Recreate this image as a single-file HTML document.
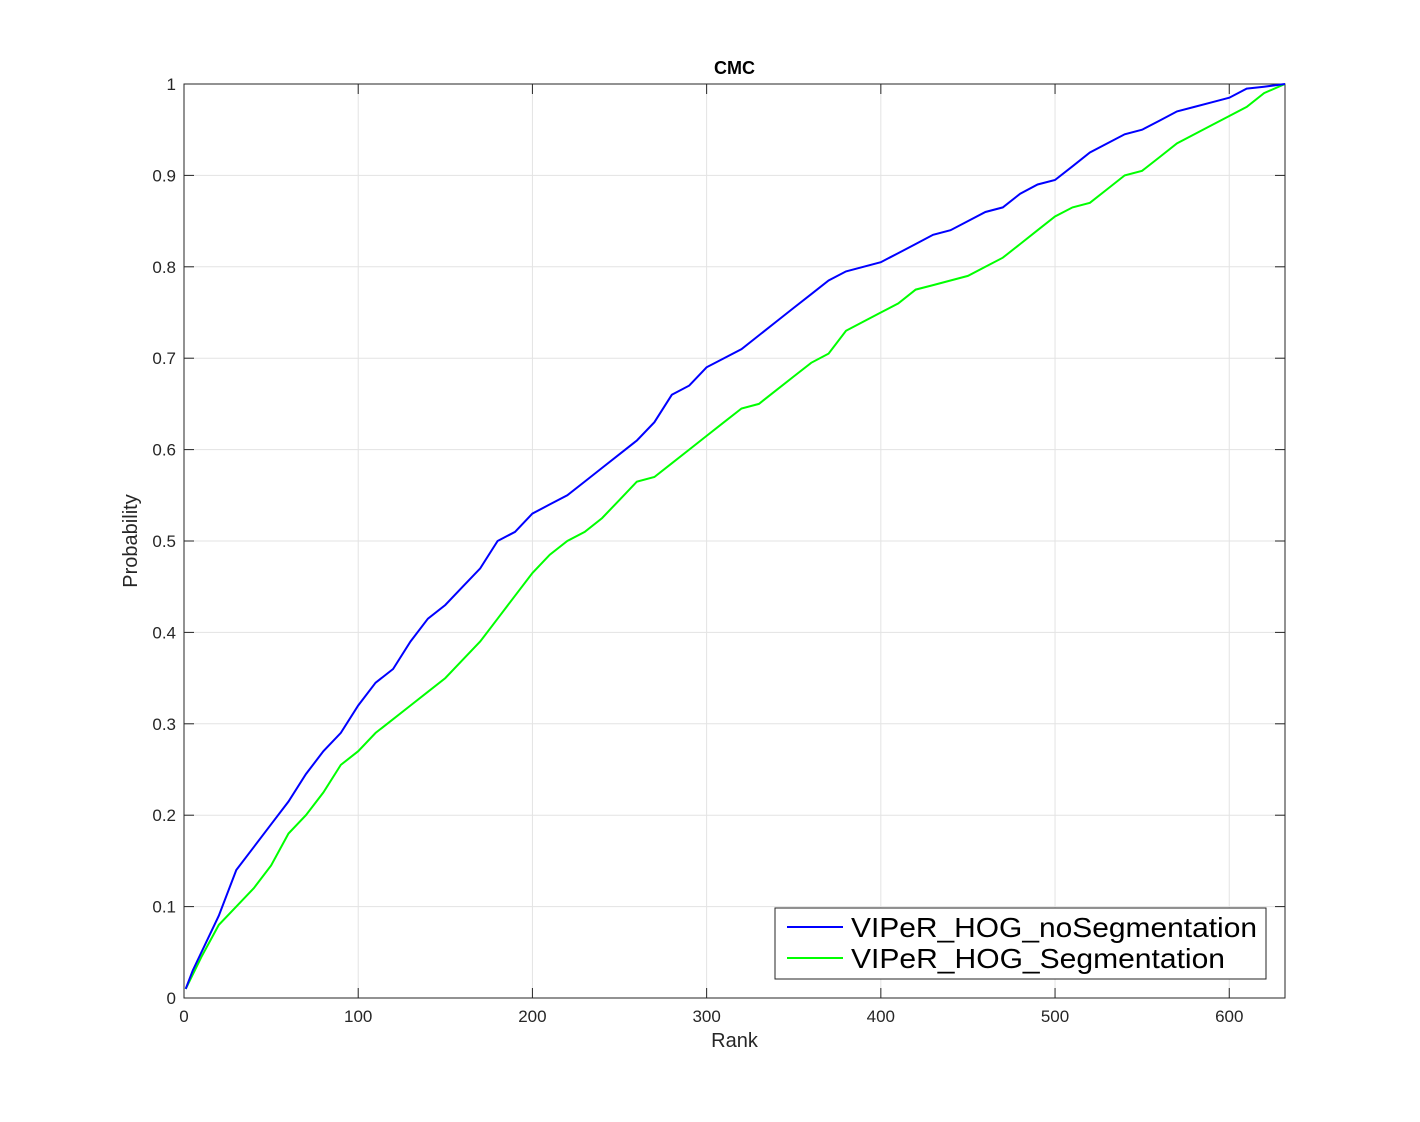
<!DOCTYPE html>
<html><head><meta charset="utf-8"><style>
body{margin:0;background:#fff;}
svg{display:block;font-family:"Liberation Sans",sans-serif;}
</style></head><body>
<svg id="chart" width="1420" height="1122"></svg>
<script>
const blueRanks=[1,5,10,20,30,40,50,60,70,80,90,100,110,120,130,140,150,160,170,180,190,200,210,220,230,240,250,260,270,280,290,300,310,320,330,340,350,360,370,380,390,400,410,420,430,440,450,460,470,480,490,500,510,520,530,540,550,560,570,580,590,600,610,620,632];
const blueValues=[0.01,0.03,0.05,0.09,0.14,0.165,0.19,0.215,0.245,0.27,0.29,0.32,0.345,0.36,0.39,0.415,0.43,0.45,0.47,0.5,0.51,0.53,0.54,0.55,0.565,0.58,0.595,0.61,0.63,0.66,0.67,0.69,0.70,0.71,0.725,0.74,0.755,0.77,0.785,0.795,0.80,0.805,0.815,0.825,0.835,0.84,0.85,0.86,0.865,0.88,0.89,0.895,0.91,0.925,0.935,0.945,0.95,0.96,0.97,0.975,0.98,0.985,0.995,0.997,1];
const greenRanks=[1,10,20,30,40,50,60,70,80,90,100,110,120,130,140,150,160,170,180,190,200,210,220,230,240,250,260,270,280,290,300,310,320,330,340,350,360,370,380,390,400,410,420,430,440,450,460,470,480,490,500,510,520,530,540,550,560,570,580,590,600,610,620,632];
const greenValues=[0.01,0.045,0.08,0.1,0.12,0.145,0.18,0.2,0.225,0.255,0.27,0.29,0.305,0.32,0.335,0.35,0.37,0.39,0.415,0.44,0.465,0.485,0.5,0.51,0.525,0.545,0.565,0.57,0.585,0.6,0.615,0.63,0.645,0.65,0.665,0.68,0.695,0.705,0.73,0.74,0.75,0.76,0.775,0.78,0.785,0.79,0.8,0.81,0.825,0.84,0.855,0.865,0.87,0.885,0.9,0.905,0.92,0.935,0.945,0.955,0.965,0.975,0.99,1];
const xTicks=[0,100,200,300,400,500,600];
const yTicks=[0,0.1,0.2,0.3,0.4,0.5,0.6,0.7,0.8,0.9,1];
const yTickLabels=["0","0.1","0.2","0.3","0.4","0.5","0.6","0.7","0.8","0.9","1"];

const L=184,R=1285,T=84,B=998,XMAX=632;
const sx=v=>L+(v/XMAX)*(R-L);
const sy=v=>B-v*(B-T);
const svg=document.getElementById('chart');
const NS='http://www.w3.org/2000/svg';
function mk(tag,attrs,parent){const e=document.createElementNS(NS,tag);for(const k in attrs)e.setAttribute(k,attrs[k]);(parent||svg).appendChild(e);return e;}

const grid=mk('g',{});


xTicks.forEach(t=>{
  mk('line',{x1:sx(t),x2:sx(t),y1:T,y2:B,stroke:'#e3e3e3','stroke-width':1},grid);
  mk('line',{x1:sx(t),x2:sx(t),y1:B,y2:B-10,stroke:'#262626'},grid);
  mk('line',{x1:sx(t),x2:sx(t),y1:T,y2:T+10,stroke:'#262626'},grid);
  const tx=mk('text',{x:sx(t),y:B+24,'text-anchor':'middle','font-size':17,fill:'#262626'});
  tx.textContent=t;
  
  
});
yTicks.forEach((t,i)=>{
  mk('line',{x1:L,x2:R,y1:sy(t),y2:sy(t),stroke:'#e3e3e3','stroke-width':1},grid);
  mk('line',{x1:L,x2:L+10,y1:sy(t),y2:sy(t),stroke:'#262626'},grid);
  mk('line',{x1:R,x2:R-10,y1:sy(t),y2:sy(t),stroke:'#262626'},grid);
  const tx=mk('text',{x:L-8,y:sy(t)+6,'text-anchor':'end','font-size':17,fill:'#262626'});
  tx.textContent=yTickLabels[i];
  
  
});
const frame=mk('rect',{x:L,y:T,width:R-L,height:B-T,fill:'none',stroke:'#262626','stroke-width':1});



function line(xs,ys,color,name){
  const d=xs.map((x,i)=>(i?'L':'M')+sx(x).toFixed(1)+','+sy(ys[i]).toFixed(1)).join('');
  const p=mk('path',{d:d,fill:'none',stroke:color,'stroke-width':2});
  
  
}
line(greenRanks,greenValues,'#00ff00','line-segmentation');
line(blueRanks,blueValues,'#0000ff','line-no-segmentation');

const title=mk('text',{x:(L+R)/2,y:74,'text-anchor':'middle','font-size':18,'font-weight':'bold',fill:'#000'});
title.textContent='CMC';


const xl=mk('text',{x:(L+R)/2,y:1047,'text-anchor':'middle','font-size':20,fill:'#262626'});
xl.textContent='Rank';


const yl=mk('text',{x:0,y:0,'text-anchor':'middle','font-size':20,fill:'#262626',transform:'translate(137,541) rotate(-90)'});
yl.textContent='Probability';



const lg=mk('g',{});


mk('rect',{x:775,y:908,width:491,height:71,fill:'#fff',stroke:'#262626'},lg);
mk('line',{x1:787,x2:843,y1:927,y2:927,stroke:'#0000ff','stroke-width':2},lg);
mk('line',{x1:787,x2:843,y1:958,y2:958,stroke:'#00ff00','stroke-width':2},lg);
const t1=mk('text',{x:851,y:937,'font-size':28,fill:'#000',textLength:406,lengthAdjust:'spacingAndGlyphs'},lg);
t1.textContent='VIPeR_HOG_noSegmentation';


const t2=mk('text',{x:851,y:968,'font-size':28,fill:'#000',textLength:374,lengthAdjust:'spacingAndGlyphs'},lg);
t2.textContent='VIPeR_HOG_Segmentation';


</script>
</body></html>
